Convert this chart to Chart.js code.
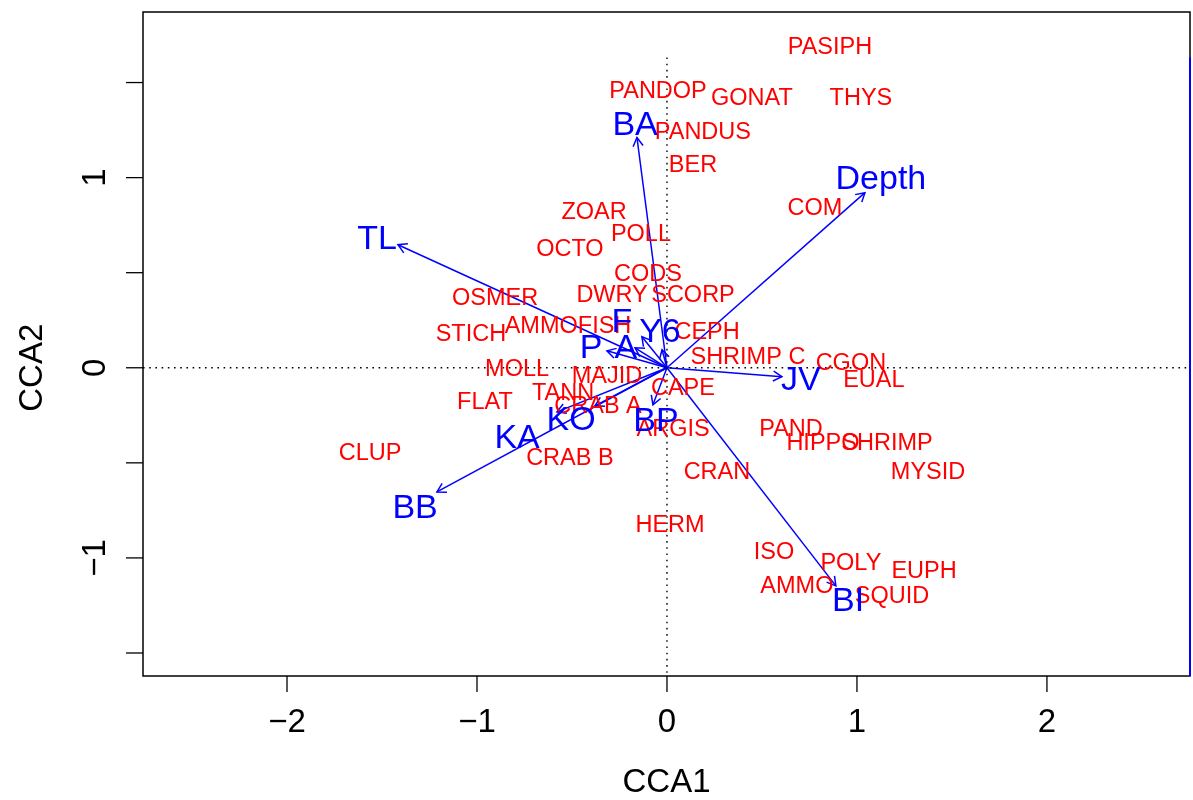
<!DOCTYPE html>
<html>
<head>
<meta charset="utf-8">
<title>CCA biplot</title>
<script src="https://cdn.jsdelivr.net/npm/chart.js@4.4.1/dist/chart.umd.min.js"></script>
<style>
  html, body { margin: 0; padding: 0; background: #fff; }
  #wrap { width: 1193px; height: 800px; }
</style>
</head>
<body>
<div id="wrap"><canvas id="cca" width="1193" height="800"></canvas></div>
<script>
// species scores on the first two constrained axes
const speciesNames = [
  'PASIPH', 'PANDOP', 'GONAT', 'THYS', 'PANDUS', 'BER', 'COM', 'ZOAR', 'POLL', 'OCTO',
  'CODS', 'DWRY', 'SCORP', 'OSMER', 'AMMOFISH', 'STICH', 'CEPH', 'SHRIMP C', 'CGON', 'MOLL',
  'MAJID', 'EUAL', 'CAPE', 'TANN', 'FLAT', 'CRAB A', 'ARGIS', 'PAND', 'HIPPO', 'SHRIMP',
  'CLUP', 'CRAB B', 'MYSID', 'CRAN', 'HERM', 'ISO', 'POLY', 'EUPH', 'AMMO', 'SQUID'
];
const speciesCCA1 = [
  0.858, -0.047, 0.447, 1.021, 0.189, 0.137, 0.779, -0.384, -0.137, -0.511,
  -0.100, -0.289, 0.137, -0.905, -0.521, -1.032, 0.211, 0.426, 0.968, -0.789,
  -0.316, 1.089, 0.084, -0.547, -0.958, -0.363, 0.032, 0.653, 0.821, 1.158,
  -1.563, -0.511, 1.374, 0.263, 0.016, 0.563, 0.968, 1.353, 0.684, 1.184
];
const speciesCCA2 = [
  1.695, 1.463, 1.426, 1.426, 1.247, 1.074, 0.847, 0.826, 0.711, 0.632,
  0.500, 0.389, 0.389, 0.374, 0.226, 0.184, 0.195, 0.063, 0.032, 0.000,
  -0.037, -0.058, -0.100, -0.126, -0.174, -0.195, -0.316, -0.316, -0.389, -0.389,
  -0.442, -0.468, -0.542, -0.542, -0.821, -0.963, -1.021, -1.063, -1.142, -1.195
];

// environmental variables: arrow tips and label positions
const envNames = ['BA', 'Depth', 'TL', 'F', 'Y6', 'P', 'A', 'JV', 'BP', 'KO', 'KA', 'BB', 'BI'];
const envArrowCCA1 = [-0.158, 1.042, -1.416, -0.132, -0.026, -0.316, -0.168, 0.605, -0.074, -0.379, -0.579, -1.211, 0.889];
const envArrowCCA2 = [1.211, 0.921, 0.647, 0.163, 0.095, 0.089, 0.105, -0.047, -0.195, -0.200, -0.232, -0.653, -1.147];
const envLabelCCA1 = [-0.168, 1.126, -1.526, -0.237, -0.037, -0.400, -0.216, 0.705, -0.058, -0.505, -0.789, -1.326, 0.953];
const envLabelCCA2 = [1.284, 1.000, 0.684, 0.247, 0.195, 0.111, 0.111, -0.058, -0.274, -0.268, -0.363, -0.732, -1.221];

// axes
const xTicks = [-2, -1, 0, 1, 2];
const xTickLabels = ['\u22122', '\u22121', '0', '1', '2'];
const yTicks = [-1.5, -1, -0.5, 0, 0.5, 1, 1.5];
const yTickLabels = ['', '\u22121', '', '0', '', '1', ''];
const xLimits = [-2.758, 2.753];
const yLimits = [-1.621, 1.871];
const refTop = 1.632; // upper end of the zero lines and of the right-hand arrow axis

const FONT = '"Liberation Sans", Arial, Helvetica, sans-serif';
const RED = '#ff0000';
const BLUE = '#0000ff';
const TEXT_DY = 2; // canvas 'middle' sits a touch high for capitals

const datasets = [];

datasets.push({
  label: 'species',
  data: speciesNames.map((n, i) => ({ x: speciesCCA1[i], y: speciesCCA2[i] })),
  pointRadius: 0,
  showLine: false
});

// dotted lines through the origin
datasets.push({
  label: 'h0',
  data: [{ x: xLimits[0], y: 0 }, { x: xLimits[1], y: 0 }],
  showLine: true, pointRadius: 0,
  borderColor: '#000', borderWidth: 1.4, borderDash: [1.6, 4.6]
});
datasets.push({
  label: 'v0',
  data: [{ x: 0, y: refTop }, { x: 0, y: yLimits[0] }],
  showLine: true, pointRadius: 0,
  borderColor: '#000', borderWidth: 1.4, borderDash: [1.6, 4.6]
});

// arrow shafts
envNames.forEach((n, i) => {
  datasets.push({
    label: 'arrow ' + n,
    data: [{ x: 0, y: 0 }, { x: envArrowCCA1[i], y: envArrowCCA2[i] }],
    showLine: true, pointRadius: 0,
    borderColor: BLUE, borderWidth: 1.5
  });
});

const biplotDecor = {
  id: 'biplotDecor',
  afterDatasetsDraw(chart) {
    const ctx = chart.ctx;
    const xs = chart.scales.x, ys = chart.scales.y;
    const area = chart.chartArea;
    const ox = xs.getPixelForValue(0), oy = ys.getPixelForValue(0);

    ctx.save();

    // arrow heads
    ctx.strokeStyle = BLUE;
    ctx.lineWidth = 1.5;
    envNames.forEach((n, i) => {
      const tx = xs.getPixelForValue(envArrowCCA1[i]);
      const ty = ys.getPixelForValue(envArrowCCA2[i]);
      const ang = Math.atan2(ty - oy, tx - ox);
      const len = 10, spread = Math.PI / 6;
      ctx.beginPath();
      ctx.moveTo(tx - len * Math.cos(ang - spread), ty - len * Math.sin(ang - spread));
      ctx.lineTo(tx, ty);
      ctx.lineTo(tx - len * Math.cos(ang + spread), ty - len * Math.sin(ang + spread));
      ctx.stroke();
    });

    // species names
    ctx.textAlign = 'center';
    ctx.textBaseline = 'middle';
    ctx.fillStyle = RED;
    ctx.font = '23.5px ' + FONT;
    const meta = chart.getDatasetMeta(0);
    meta.data.forEach((pt, i) => {
      ctx.fillText(speciesNames[i], pt.x, pt.y + TEXT_DY);
    });

    // variable names
    ctx.fillStyle = BLUE;
    ctx.font = '34px ' + FONT;
    envNames.forEach((n, i) => {
      ctx.fillText(n, xs.getPixelForValue(envLabelCCA1[i]), ys.getPixelForValue(envLabelCCA2[i]) + TEXT_DY);
    });

    // box
    ctx.strokeStyle = '#000';
    ctx.lineWidth = 1.5;
    ctx.strokeRect(area.left, area.top, area.right - area.left, area.bottom - area.top);

    // right-hand axis of the arrow scale
    ctx.strokeStyle = BLUE;
    ctx.lineWidth = 2;
    ctx.beginPath();
    ctx.moveTo(area.right, ys.getPixelForValue(refTop));
    ctx.lineTo(area.right, area.bottom);
    ctx.stroke();

    // tick marks and labels
    ctx.strokeStyle = '#000';
    ctx.lineWidth = 1.3;
    ctx.fillStyle = '#000';
    ctx.font = '33px ' + FONT;
    xTicks.forEach((v, i) => {
      const px = xs.getPixelForValue(v);
      ctx.beginPath();
      ctx.moveTo(px, area.bottom);
      ctx.lineTo(px, area.bottom + 16);
      ctx.stroke();
      ctx.fillText(xTickLabels[i], px, area.bottom + 47);
    });
    yTicks.forEach((v, i) => {
      const py = ys.getPixelForValue(v);
      ctx.beginPath();
      ctx.moveTo(area.left, py);
      ctx.lineTo(area.left - 17, py);
      ctx.stroke();
      if (yTickLabels[i]) {
        ctx.save();
        ctx.translate(area.left - 47, py);
        ctx.rotate(-Math.PI / 2);
        ctx.fillText(yTickLabels[i], 0, 0);
        ctx.restore();
      }
    });

    // axis titles
    ctx.fillText('CCA1', (area.left + area.right) / 2, area.bottom + 107);
    ctx.save();
    ctx.translate(area.left - 110, oy);
    ctx.rotate(-Math.PI / 2);
    ctx.fillText('CCA2', 0, 0);
    ctx.restore();

    ctx.restore();
  }
};

new Chart(document.getElementById('cca'), {
  type: 'scatter',
  data: { datasets },
  options: {
    responsive: false,
    animation: false,
    devicePixelRatio: 1,
    layout: { padding: { left: 143, right: 3, top: 12, bottom: 124 } },
    plugins: { legend: { display: false }, tooltip: { enabled: false } },
    scales: {
      x: { type: 'linear', min: xLimits[0], max: xLimits[1], display: false },
      y: { type: 'linear', min: yLimits[0], max: yLimits[1], display: false }
    }
  },
  plugins: [biplotDecor]
});
</script>
</body>
</html>
